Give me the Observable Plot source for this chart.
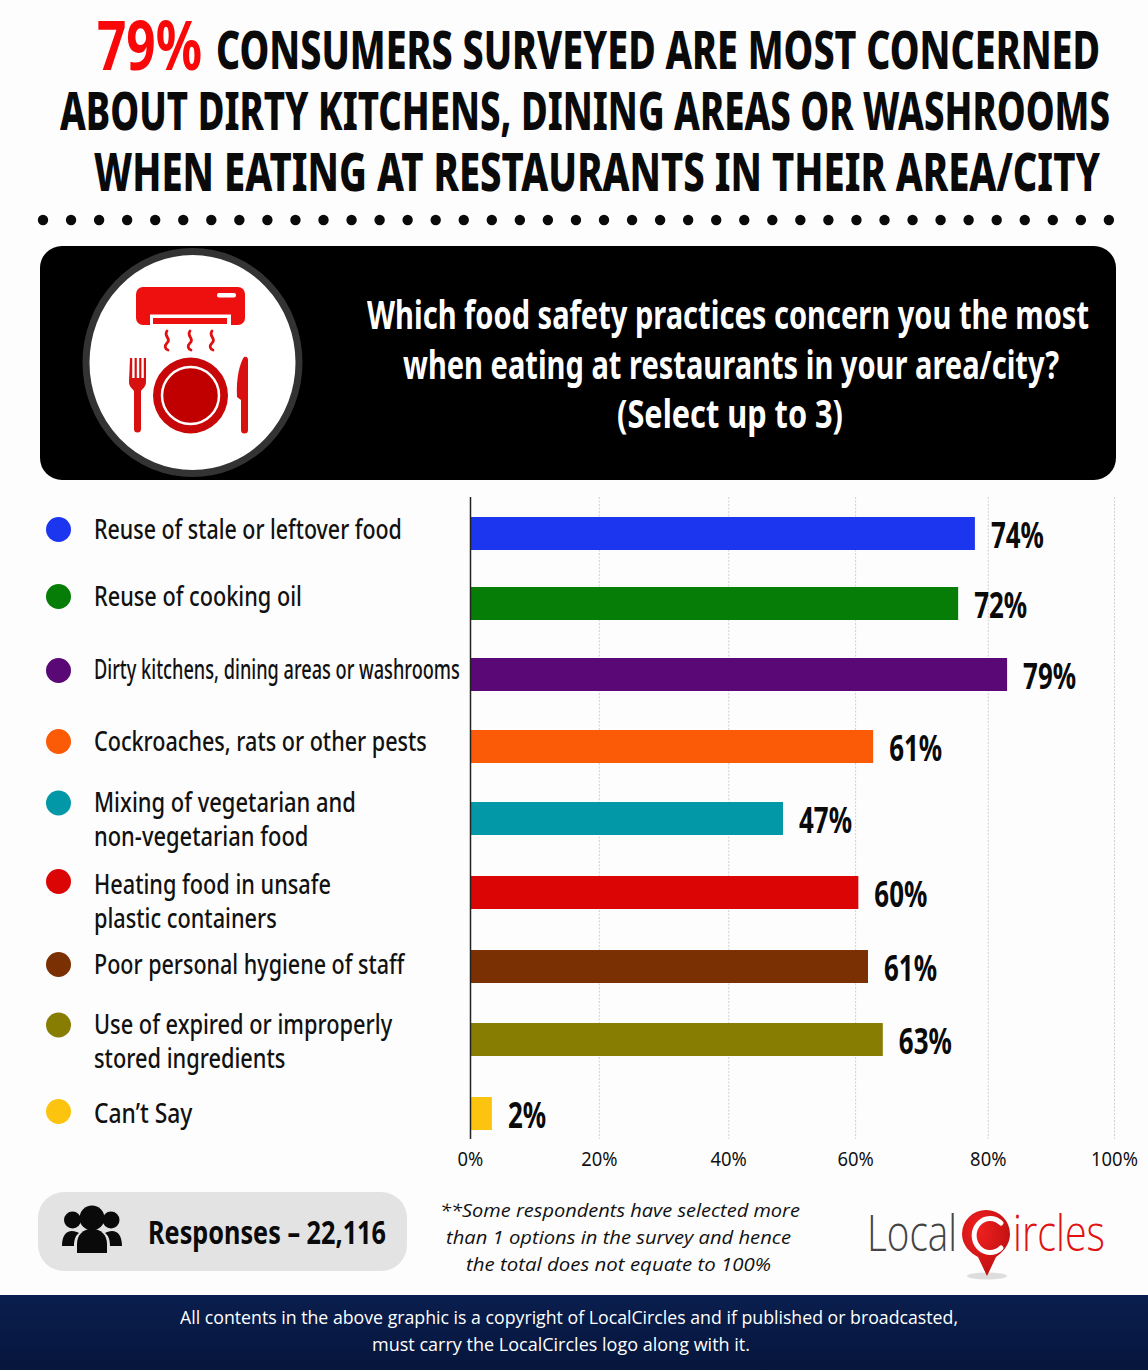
<!DOCTYPE html>
<html><head><meta charset="utf-8">
<script src="https://cdn.jsdelivr.net/npm/d3@7"></script>
<script src="https://cdn.jsdelivr.net/npm/@observablehq/plot@0.6"></script>
<style>
html,body{margin:0;padding:0;background:#fdfdfd}
#page{position:relative;width:1148px;height:1370px;overflow:hidden;background:#fdfdfd}
.t{position:absolute;white-space:nowrap;transform-origin:0 50%;line-height:1}
#dots{position:absolute;left:0;top:210px;width:1148px;height:20px}
#panel{position:absolute;left:40px;top:246px;width:1076px;height:234px;background:#000;border-radius:22px}
#pill{position:absolute;left:38px;top:1192px;width:369px;height:79px;background:#e3e3e3;border-radius:26px}
#foot{position:absolute;left:0;top:1295px;width:1148px;height:75px;background:linear-gradient(#0a1e4e,#06163c)}
#chart{position:absolute;left:0;top:490px}
svg.deco{position:absolute;overflow:visible}
</style></head><body>
<div id="page">
<svg id="dots" class="deco"></svg>
<div id="panel"></div>
<svg class="deco" style="left:0;top:0;width:1148px;height:490px" viewBox="0 0 1148 490">
  <ellipse cx="192.5" cy="362.5" rx="106.5" ry="111" fill="#fff" stroke="#333" stroke-width="7"/>
  <rect x="136" y="287" width="109" height="38" rx="7" fill="#ee0f0f"/>
  <rect x="150" y="314.5" width="81" height="12" fill="#fff"/>
  <rect x="153" y="318" width="74" height="6" fill="#ee0f0f"/>
  <rect x="217" y="293" width="19" height="4.5" rx="2" fill="#fff"/>
  <g fill="none" stroke="#e01010" stroke-width="2.8" stroke-linecap="round">
    <path d="M167 331c-4 5 5 8 0 12c-3 3-2 6 1 7"/>
    <path d="M190 331c-4 5 5 8 0 12c-3 3-2 6 1 7"/>
    <path d="M212 331c-4 5 5 8 0 12c-3 3-2 6 1 7"/>
  </g>
  <ellipse cx="190.5" cy="395.5" rx="37.5" ry="38" fill="#c80808"/>
  <circle cx="190.5" cy="395.5" r="28.5" fill="#c00000" stroke="#fff" stroke-width="2.5"/>
  <path d="M130 358h2.2v20h2.4v-20h2.2v20h2.4v-20h2.2v20h2.4v-20h2.2v24c0 5-4 7-5 9v38a3.5 3.5 0 0 1-7 0v-38c-1-2-5-4-5-9z" fill="#d81010"/>
  <path d="M244 357c3-1 4 1 4 3v70a3.5 3.5 0 0 1-7 0v-30l-4-3c-1-20 3-34 7-40z" fill="#d81010"/>
</svg>
<div id="pill"></div>
<svg class="deco" style="left:0;top:1190px;width:200px;height:80px" viewBox="0 1190 200 80">
  <g fill="#0a0a0a">
    <circle cx="92" cy="1218" r="12.5"/><circle cx="72.5" cy="1220" r="8.5"/><circle cx="111" cy="1220" r="8.5"/>
    <path d="M77 1253v-9c0-9 6-15 15-15s15 6 15 15v9z"/>
    <path d="M62 1246c0-10 4-15 10-15c3 0 5 1 7 2c-4 3-5 8-5 13z"/>
    <path d="M122 1246c0-10-4-15-10-15c-3 0-5 1-7 2c4 3 5 8 5 13z"/>
  </g>
</svg>
<div id="foot"></div>
<svg class="deco" style="left:850px;top:1195px;width:280px;height:95px" viewBox="850 1195 280 95">
  <defs><radialGradient id="pin" cx=".35" cy=".3" r=".9"><stop offset="0" stop-color="#f02020"/><stop offset="1" stop-color="#b40c0c"/></radialGradient></defs>
  <ellipse cx="987" cy="1276" rx="20" ry="3.5" fill="#ddd"/>
  <path d="M962 1234a24 24 0 1 1 48 0c0 11-8 19-14 23l-9 19l-9-19c-8-4-16-12-16-23z" fill="url(#pin)"/>
  <path d="M1001 1223a16 17 0 1 0 0 25" fill="none" stroke="#fff" stroke-width="5" stroke-linecap="round"/>
</svg>
<div id="chart"></div>
</div>
<script>
const categories = ["Reuse of stale or leftover food","Reuse of cooking oil","Dirty kitchens, dining areas or washrooms","Cockroaches, rats or other pests","Mixing of vegetarian and\nnon-vegetarian food","Heating food in unsafe\nplastic containers","Poor personal hygiene of staff","Use of expired or improperly\nstored ingredients","Can’t Say"];
const drawnLengths = [78.4,75.8,83.4,62.6,48.6,60.3,61.8,64.1,3.4];
const printedLabels = ["74%","72%","79%","61%","47%","60%","61%","63%","2%"];
const barColors = ["#1c35ee","#067d06","#5a0875","#fb5a06","#0398a8","#dc0505","#7a3003","#887d03","#fcc40f"];
const xTicks = [0,20,40.1,59.8,80.4,100];
const titleLines = ["CONSUMERS SURVEYED ARE MOST CONCERNED","ABOUT DIRTY KITCHENS, DINING AREAS OR WASHROOMS","WHEN EATING AT RESTAURANTS IN THEIR AREA/CITY"];
const questionLines = ["Which food safety practices concern you the most","when eating at restaurants in your area/city?","(Select up to 3)"];
const noteLines = ["**Some respondents have selected more","than 1 options in the survey and hence","the total does not equate to 100%"];
const footLines = ["All contents in the above graphic is a copyright of LocalCircles and if published or broadcasted,","must carry the LocalCircles logo along with it."];

const page = document.getElementById("page");
function put(s,x,cy,w,size,css){
  const e=document.createElement("div");e.className="t";e.textContent=s;
  e.style.cssText=`left:${x}px;font-size:${size}px;${css||""}`;
  page.appendChild(e);
  const r=e.getBoundingClientRect();
  e.style.top=(cy-r.height/2)+"px";
  if(w) e.style.transform=`scaleX(${w/r.width})`;
  return e;
}
const fam='"Noto Sans",sans-serif';
const bold=`font-family:${fam};font-weight:700;`;
const heavy=`font-family:${fam};font-weight:800;`;
put("79%",97,44,105,68,bold+"color:#f80808;");
put(titleLines[0],216,48,884,54,heavy+"color:#0a0a0a;");
put(titleLines[1],60,109,1050,54,heavy+"color:#0a0a0a;");
put(titleLines[2],94,170,1006,54,heavy+"color:#0a0a0a;");
put(questionLines[0],367,314,722,40,bold+"color:#fff;");
put(questionLines[1],403,364,656,40,bold+"color:#fff;");
put(questionLines[2],617,413,226,40,bold+"color:#fff;");
put("Responses – 22,116",148,1231,238,33,bold+"color:#0a0a0a;");
const noteCss='font-family:"Open Sans",sans-serif;font-style:italic;color:#111;';
put(noteLines[0],440,1210,360,19,noteCss);
put(noteLines[1],446,1237,345,19,noteCss);
put(noteLines[2],466,1264,305,19,noteCss);
const footCss='font-family:"Open Sans",sans-serif;color:#fff;';
put(footLines[0],180,1318,778,17.5,footCss);
put(footLines[1],372,1345,378,17.5,footCss);
put("Local",867,1232,90,50,'font-family:"Open Sans",sans-serif;font-weight:300;color:#444;');
put("ircles",1013,1232,92,50,'font-family:"Open Sans",sans-serif;font-weight:300;color:#e01212;');

d3.select("#dots").selectAll("circle").data(d3.range(39)).join("circle")
  .attr("cx",i=>43+i*28.05).attr("cy",10).attr("r",5.2).attr("fill","#0a0a0a");

const rows = categories.map((c,i)=>({c,v:drawnLengths[i],label:printedLabels[i],color:barColors[i]}));
// layout: each row's nudge from the even band, then its label and dot offsets from the bar centre
const rowNudge = [0,-2.5,-4,-4.5,-5,-3.5,-2,-1.5,0];
const textShift = [-6,-9,-7,-7,-1,7.5,-4,0.5,-2];
const dotShift = [-4.5,-7.5,-4.5,-5.5,-16,-11.5,-2.5,-15,-2.5];
const textWidth = [308,208,366,333,262,237,312,299,99];
const chart = Plot.plot({
  width:1148,height:690,marginLeft:470,marginRight:34,marginTop:7,marginBottom:41,
  style:{background:"transparent",overflow:"visible"},
  x:{domain:[0,100],axis:null},
  y:{domain:categories,axis:null,paddingInner:.545,paddingOuter:.2,align:.69,round:false},
  marks:[
    Plot.ruleX(xTicks.slice(1),{stroke:"#d0d0d0",strokeWidth:1,strokeDasharray:"2 1.5"}),
    ...rows.map((r,i)=>Plot.barX([r],{y:"c",x:"v",fill:"color",dy:rowNudge[i]})),
    Plot.ruleX([0],{stroke:"#222",strokeWidth:1.5}),
    Plot.axisX({ticks:xTicks,tickSize:0,tickPadding:12,tickFormat:d=>Math.round(d/20)*20+"%",fontSize:20,fontFamily:fam,fill:"#111",anchor:"bottom",label:null}),
    ...rows.map((r,i)=>Plot.text([r],{y:"c",x:"v",text:"label",textAnchor:"start",dx:15.5,dy:rowNudge[i]+2.5,fontSize:36,fontWeight:700,fontFamily:fam,fill:"#0a0a0a"})),
    ...rows.map((r,i)=>Plot.dot([r],{y:"c",frameAnchor:"left",dx:-412,dy:rowNudge[i]+dotShift[i],r:12.5,fill:"color"})),
    ...rows.map((r,i)=>Plot.text([r],{y:"c",text:"c",frameAnchor:"left",textAnchor:"start",dx:-376.5,dy:rowNudge[i]+textShift[i],fontSize:27,fontWeight:500,lineHeight:1.26,fontFamily:fam,fill:"#111"}))
  ]
});
document.getElementById("chart").appendChild(chart);

// the source lettering is condensed: squeeze each text horizontally to its width in the picture
function squeeze(t,s){t.setAttribute("transform",(t.getAttribute("transform")||"")+` scale(${s},1)`)}
const texts = [...chart.querySelectorAll('g[aria-label="text"] text')];
texts.forEach(t=>{
  const s=t.textContent;
  if(printedLabels.includes(s)) squeeze(t,0.72);
  else {
    const i=categories.findIndex(c=>c.replace("\n","")===s);
    if(i>=0) squeeze(t,textWidth[i]/t.getBBox().width);
  }
});
chart.querySelectorAll('g[aria-label="x-axis tick label"] text').forEach(t=>squeeze(t,0.92));
</script>
</body></html>
